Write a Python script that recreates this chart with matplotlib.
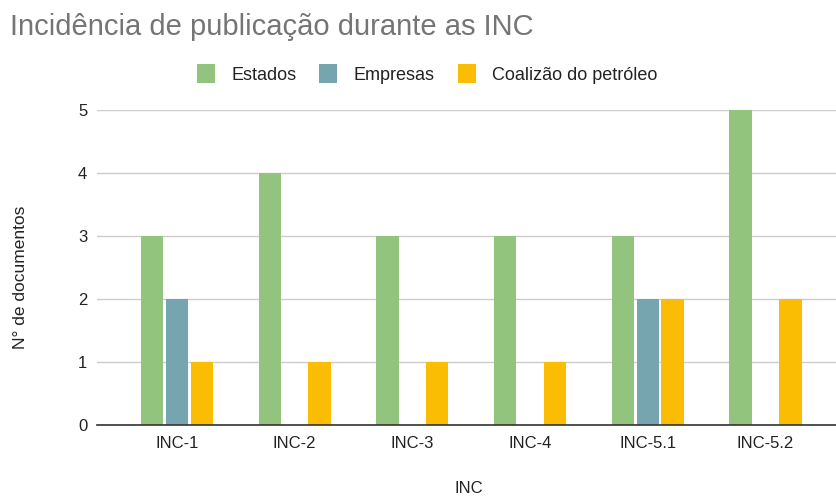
import numpy as np
import matplotlib
matplotlib.use("Agg")
import matplotlib.pyplot as plt

plt.rcParams["font.family"] = ["Liberation Sans", "DejaVu Sans"]

# Chart data
categories = ["INC-1", "INC-2", "INC-3", "INC-4", "INC-5.1", "INC-5.2"]
estados = [3, 4, 3, 3, 3, 5]
empresas = [2, 0, 0, 0, 2, 0]
coalizao = [1, 1, 1, 1, 2, 2]

series = [
    ("Estados", estados, "#93c47d"),
    ("Empresas", empresas, "#76a5af"),
    ("Coalizão do petróleo", coalizao, "#fbbc04"),
]

fig = plt.figure(figsize=(8.36, 4.97), dpi=100)
ax = fig.add_axes([0.116, 0.1449, 0.884, 0.6338])

x = np.arange(len(categories))
width = 0.19
step = 0.212
for i, (name, vals, color) in enumerate(series):
    ax.bar(x + (i - 1) * step, vals, width=width, color=color, label=name, zorder=3)

ax.set_xlim(-0.68, 5.6)
ax.set_ylim(0, 5)
ax.set_yticks(range(0, 6))
ax.set_xticks(x)
ax.set_xticklabels(categories)
ax.tick_params(axis="both", length=0, labelsize=12, colors="#222222")
ax.tick_params(axis="y", pad=7)
ax.tick_params(axis="x", pad=8)
ax.grid(axis="y", color="#cccccc", linewidth=1, zorder=0)
for s in ["top", "right", "left"]:
    ax.spines[s].set_visible(False)
ax.spines["bottom"].set_color("#333333")
ax.spines["bottom"].set_linewidth(1.2)
ax.spines["bottom"].set_zorder(4)

fig.text(0.012, 0.9296, "Incidência de publicação durante as INC",
         fontsize=21, color="#757575", va="baseline", ha="left")
fig.text(0.561, 0.018, "INC", fontsize=12, color="#222222", ha="center", va="center")
fig.text(0.024, 0.443, "N° de documentos", fontsize=12.5, color="#222222",
         rotation=90, ha="center", va="center")

fig.legend(loc="center", bbox_to_anchor=(0.511, 0.851), ncol=3, frameon=False,
           fontsize=13, handlelength=1.0, handleheight=1.2, columnspacing=1.28,
           handletextpad=0.9, labelcolor="#222222")

plt.savefig("out.png", dpi=100)
